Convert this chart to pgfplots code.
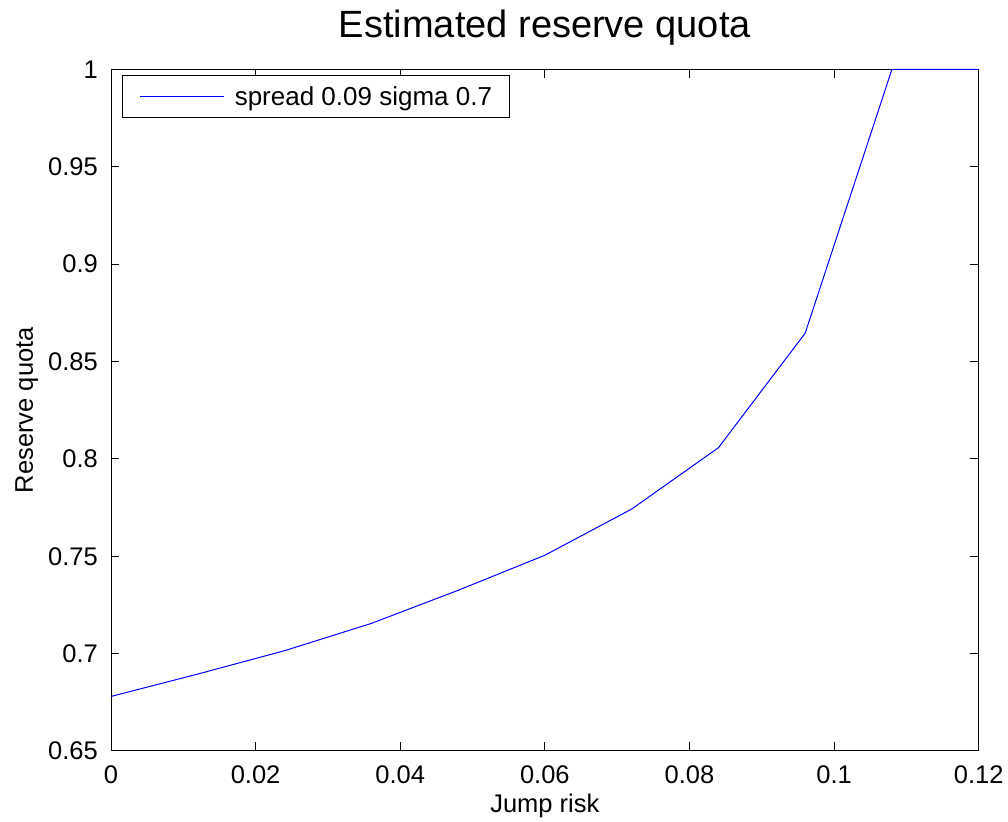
\documentclass[border=0pt]{standalone}
\usepackage{fontspec}
\setmainfont{Liberation Sans}
\usepackage{pgfplots}
\pgfplotsset{compat=1.18}
\begin{document}
\begin{tikzpicture}
\begin{axis}[
  set layers=standard,
  name=ax, at={(0,0)}, anchor=south west,
  scale only axis, width=867.7pt, height=681.7pt,
  xmin=0, xmax=0.12, ymin=0.65, ymax=1,
  xtick={0,0.02,0.04,0.06,0.08,0.1,0.12},
  ytick={0.65,0.7,0.75,0.8,0.85,0.9,0.95,1},
  scaled ticks=false,
  /pgf/number format/assume math mode=true,
  xticklabel style={/pgf/number format/fixed, anchor=base, inner sep=0pt, yshift=-32pt},
  yticklabel style={/pgf/number format/fixed, anchor=east, inner sep=0pt, xshift=-13pt},
  font=\fontsize{25.5}{30}\selectfont,
  tick align=inside, major tick length=8.5pt,
  tick style={black, line width=1pt},
  axis line style={black, line width=1pt},
  clip=false,
  title={Estimated reserve quota},
  title style={at={(axis description cs:0.5,1.0381)}, anchor=base, font=\fontsize{38}{44}\selectfont, inner sep=0pt},
  xlabel={Jump risk},
  xlabel style={at={(axis description cs:0.5,-0.0902)}, anchor=base, inner sep=0pt},
  ylabel={Reserve quota},
  ylabel style={at={(axis description cs:-0.0899,0.5)}, anchor=base, inner sep=0pt},
  legend style={at={(axis description cs:0.013,0.9917)}, anchor=north west, draw=black, fill=white, line width=1pt,
    font=\fontsize{26}{30}\selectfont, inner xsep=17pt, inner ysep=11pt, nodes={inner sep=0pt}, column sep=10pt},
  legend image code/.code={\draw[#1, line width=1pt] (0pt,0pt) -- (84pt,0pt);},
]
\addplot[color={rgb,255:red,0;green,0;blue,255}, line width=1pt] coordinates {
(0,0.678) (0.012,0.6895) (0.024,0.7015) (0.036,0.7155) (0.048,0.7325) (0.06,0.7505)
(0.072,0.7742) (0.084,0.8057) (0.096,0.8645) (0.108,1.0) (0.12,1.0)
};
\addlegendentry{spread 0.09 sigma 0.7}
\end{axis}
\pgfresetboundingbox
\path ([shift={(-111pt,-70pt)}]ax.south west) rectangle ([shift={(897pt,751pt)}]ax.south west);
\end{tikzpicture}
\end{document}
